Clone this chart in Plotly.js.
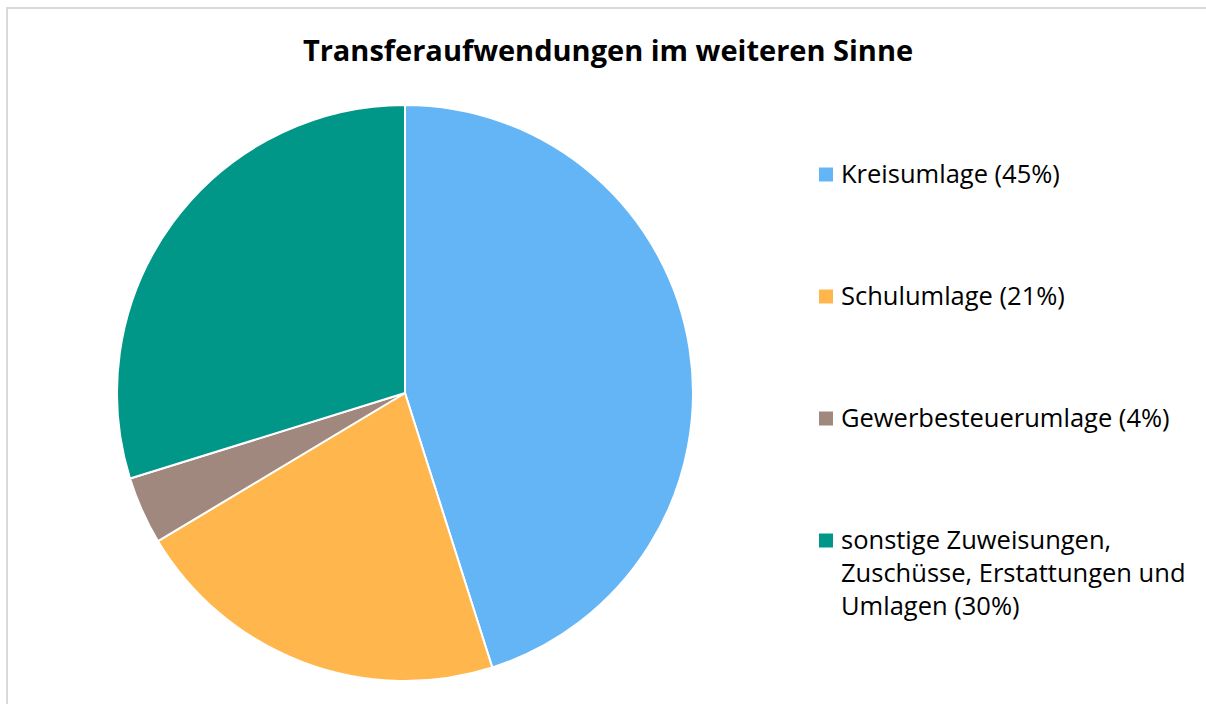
<!DOCTYPE html>
<html>
<head>
<meta charset="utf-8">
<script src="https://cdn.plot.ly/plotly-3.0.1.min.js"></script>
<style>html,body{margin:0;padding:0;background:#fff;}#chart{width:1206px;height:704px;}</style>
</head>
<body>
<div id="chart"></div>
<script>
const titleText = "Transferaufwendungen im weiteren Sinne";
const categories = [
  "Kreisumlage (45%)",
  "Schulumlage (21%)",
  "Gewerbesteuerumlage (4%)",
  "sonstige Zuweisungen,<br>Zuschüsse, Erstattungen und<br>Umlagen (30%)"
];
const values = [45.1, 21.3, 3.8, 29.8];
const colors = ["#64b5f6", "#ffb74d", "#a1887f", "#009688"];

const W = 1206, H = 704;
const cx = 405, cy = 393, r = 288;

// legend layout (pixels)
const legSwatchX = 819, legSwatch = 14, legTextX = 839;
const legFirstY = 171.5, legStep = 122, legFont = 25.5;
const lineH = legFont * 1.3;

const trace = {
  type: "pie",
  labels: categories,
  values: values,
  sort: false,
  direction: "clockwise",
  rotation: 0,
  textinfo: "none",
  hoverinfo: "none",
  showlegend: false,
  marker: { colors: colors, line: { color: "#ffffff", width: 2 } },
  domain: { x: [(cx - r) / W, (cx + r) / W], y: [1 - (cy + r) / H, 1 - (cy - r) / H] }
};

const shapes = [{
  type: "rect", xref: "paper", yref: "paper",
  x0: 7 / W, x1: 1.02, y0: -0.02, y1: 1 - 8 / H,
  line: { color: "#d9d9d9", width: 2 }, fillcolor: "rgba(0,0,0,0)"
}];
const annotations = [];
categories.forEach((c, i) => {
  const yc = legFirstY + i * legStep;
  const ys = 174.5 + i * legStep;
  shapes.push({
    type: "rect", xref: "paper", yref: "paper",
    x0: legSwatchX / W, x1: (legSwatchX + legSwatch) / W,
    y0: 1 - (ys + legSwatch / 2) / H, y1: 1 - (ys - legSwatch / 2) / H,
    line: { width: 0 }, fillcolor: colors[i]
  });
  annotations.push({
    xref: "paper", yref: "paper",
    x: legTextX / W, xanchor: "left",
    y: 1 - (yc - lineH / 2 - 1) / H, yanchor: "top",
    text: c, align: "left", showarrow: false,
    font: { family: "Open Sans, sans-serif", size: legFont, color: "#000000" }
  });
});

const layout = {
  width: W, height: H,
  margin: { l: 0, r: 0, t: 0, b: 0 },
  paper_bgcolor: "#ffffff",
  font: { family: "Open Sans, sans-serif", color: "#000000" },
  title: {
    text: "<b>" + titleText + "</b>",
    x: 608 / W, xanchor: "center",
    y: 1 - 51 / H, yanchor: "middle",
    font: { family: "Open Sans, sans-serif", size: 29, color: "#000000" }
  },
  showlegend: false,
  shapes: shapes,
  annotations: annotations
};

Plotly.newPlot("chart", [trace], layout, { displayModeBar: false, staticPlot: true });
</script>
</body>
</html>
